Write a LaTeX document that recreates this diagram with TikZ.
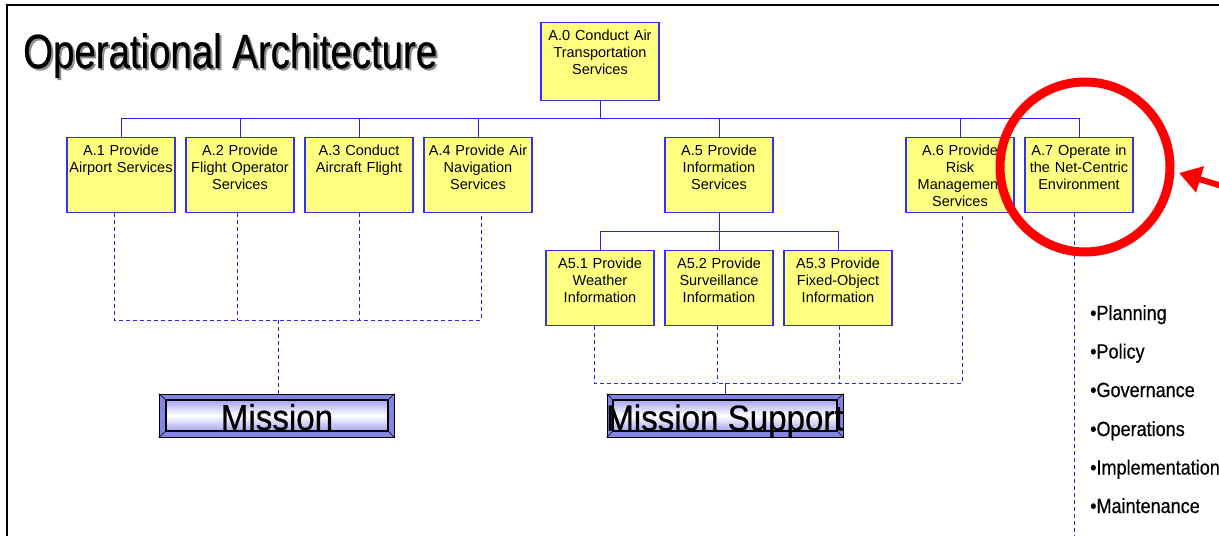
\documentclass[tikz,border=0pt]{standalone}
\usepackage{fontspec}
\setmainfont{Liberation Sans}
\newfontfamily\titlefont[FakeStretch=0.8,FakeBold=0.5]{Liberation Sans}
\newfontfamily\missfont[FakeStretch=0.92,FakeBold=0.6]{Liberation Sans}
\newfontfamily\bulfont[FakeStretch=0.88,FakeBold=0.5]{Liberation Sans}
\usetikzlibrary{arrows.meta}
\definecolor{boxfill}{HTML}{FFFF80}
\definecolor{boxline}{HTML}{3030F0}
\definecolor{conn}{HTML}{2424EC}
\definecolor{bevel}{HTML}{8484E4}
\definecolor{lav}{HTML}{A4A4F2}
\definecolor{ringred}{HTML}{FF0000}
\begin{document}
\begin{tikzpicture}[x=1pt,y=-1pt,
  box/.style={draw=boxline, fill=boxfill, line width=1.1pt, minimum width=108pt, minimum height=75pt, inner sep=0, anchor=north},
  lbl/.style={anchor=north, align=center, inner sep=0, text width=112pt, font=\fontsize{14.5}{17}\selectfont},
  tree/.style={draw=conn, line width=1pt},
  dsh/.style={draw=conn, line width=1pt, dash pattern=on 4pt off 3pt},
  btnout/.style={draw=black, line width=0.8pt, fill=bevel, inner sep=0, minimum height=43pt},
  btntxt/.style={inner sep=0, anchor=base, font=\missfont\fontsize{36}{36}\selectfont},
  bul/.style={anchor=base west, inner sep=0, font=\bulfont\fontsize{20.5}{20.5}\selectfont},
]
\useasboundingbox (0,0) rectangle (1219,536);
\fill[white] (0,0) rectangle (1219,536);

% frame
\draw[black, line width=2pt] (7,536) -- (7,5) -- (1219,5);

% title
\node[anchor=base west, inner sep=0, text=black!45, font=\titlefont\fontsize{48}{48}\selectfont] (titlesh) at (25,70) {Operational Architecture};
\node[anchor=base west, inner sep=0, font=\titlefont\fontsize{48}{48}\selectfont] (title) at (23,68) {Operational Architecture};

% boxes
\node[box, minimum width=118pt, minimum height=78pt] (a0) at (600,22) {};
\node[box] (a1) at (121,137) {};
\node[box] (a2) at (240,137) {};
\node[box] (a3) at (359,137) {};
\node[box] (a4) at (478,137) {};
\node[box] (a5) at (719,137) {};
\node[box] (a6) at (960,137) {};
\node[box] (a7) at (1079,137) {};
\node[box] (a51) at (600,250) {};
\node[box] (a52) at (719,250) {};
\node[box] (a53) at (838,250) {};

\node[lbl] (a0t) at ([yshift=-7.5pt]a0.north) {A.0 Conduct Air\\Transportation\\Services};
\node[lbl] (a1t) at ([yshift=-7.5pt]a1.north) {A.1 Provide\\Airport Services};
\node[lbl] (a2t) at ([yshift=-7.5pt]a2.north) {A.2 Provide\\Flight Operator\\Services};
\node[lbl] (a3t) at ([yshift=-7.5pt]a3.north) {A.3 Conduct\\Aircraft Flight};
\node[lbl] (a4t) at ([yshift=-7.5pt]a4.north) {A.4 Provide Air\\Navigation\\Services};
\node[lbl] (a5t) at ([yshift=-7.5pt]a5.north) {A.5 Provide\\Information\\Services};
\node[lbl] (a6t) at ([yshift=-7.5pt]a6.north) {A.6 Provide\\Risk\\Management\\Services};
\node[lbl] (a7t) at ([yshift=-7.5pt]a7.north) {A.7 Operate in\\the Net-Centric\\Environment};
\node[lbl] (a51t) at ([yshift=-7.5pt]a51.north) {A5.1 Provide\\Weather\\Information};
\node[lbl] (a52t) at ([yshift=-7.5pt]a52.north) {A5.2 Provide\\Surveillance\\Information};
\node[lbl] (a53t) at ([yshift=-7.5pt]a53.north) {A5.3 Provide\\Fixed-Object\\Information};

% solid tree
\draw[tree] (a0.south) -- ++(0,18);
\draw[tree] (a1.north) -- ++(0,-19) -| (a7.north);
\foreach \n in {a2,a3,a4,a5,a6} \draw[tree] (\n.north) -- ++(0,-19);
\draw[tree] (a5.south) -- ++(0,19);
\draw[tree] (a51.north) -- ++(0,-19) -| (a53.north);
\draw[tree] (a52.north) -- ++(0,-19);

% buttons
\node[btnout, minimum width=235pt] (misb) at (276.5,415.5) {};
\shade[top color=lav, bottom color=lav, middle color=white] (166,400) rectangle (388,431);
\draw[black, line width=1.6pt] (166,400) rectangle (388,431);
\draw[black, line width=0.6pt] (misb.north west) -- (166,400) (misb.north east) -- (388,400)
  (misb.south west) -- (166,431) (misb.south east) -- (388,431);
\node[btntxt] (mis) at (277,430) {Mission};

\node[btnout, minimum width=236pt] (msb) at (725,415.5) {};
\shade[top color=lav, bottom color=lav, middle color=white] (613,400) rectangle (837,431);
\draw[black, line width=1.6pt] (613,400) rectangle (837,431);
\draw[black, line width=0.6pt] (msb.north west) -- (613,400) (msb.north east) -- (837,400)
  (msb.south west) -- (613,431) (msb.south east) -- (837,431);
\node[btntxt] (ms) at (725,430.5) {Mission Support};

% dashed connectors, left group
\coordinate (lb1) at (114,320);
\coordinate (lb2) at (237,320);
\coordinate (lb3) at (359,320);
\coordinate (lb4) at (481,320);
\coordinate (lbm) at (278,320);
\draw[dsh] ([xshift=-7pt]a1.south) -- (lb1) -- (lb4) -- ([xshift=3pt]a4.south);
\draw[dsh] ([xshift=-3pt]a2.south) -- (lb2);
\draw[dsh] (a3.south) -- (lb3);
\draw[dsh] (lbm) -- (misb.north -| lbm);

% dashed connectors, right group
\coordinate (rb1) at (594,383);
\coordinate (rb2) at (717,383);
\coordinate (rb3) at (839,383);
\coordinate (rb4) at (962,383);
\coordinate (rbm) at (725,383);
\draw[dsh] ([xshift=-6pt]a51.south) -- (rb1) -- (rb4) -- ([xshift=2pt]a6.south);
\draw[dsh] ([xshift=-2pt]a52.south) -- (rb2);
\draw[dsh] ([xshift=1pt]a53.south) -- (rb3);
\draw[tree] (rbm) -- (msb.north);

% A.7 dashed line
\coordinate (a7end) at (1074,536);
\draw[dsh] ([xshift=-5pt]a7.south) -- (a7end);

% bullets
\node[bul] (b1) at (1090,320) {•Planning};
\node[bul] (b2) at (1090,358.5) {•Policy};
\node[bul] (b3) at (1090,397) {•Governance};
\node[bul] (b4) at (1090,436) {•Operations};
\node[bul] (b5) at (1090,474.5) {•Implementation};
\node[bul] (b6) at (1090,513) {•Maintenance};

% red highlight
\draw[ringred, line width=9pt] (1085,167) circle (85);
\coordinate (arrs) at (1232,189);
\coordinate (arre) at (1179,173);
\draw[ringred, line width=6pt, -{Triangle[length=22pt,width=26pt]}] (arrs) -- (arre);
\end{tikzpicture}
\end{document}
